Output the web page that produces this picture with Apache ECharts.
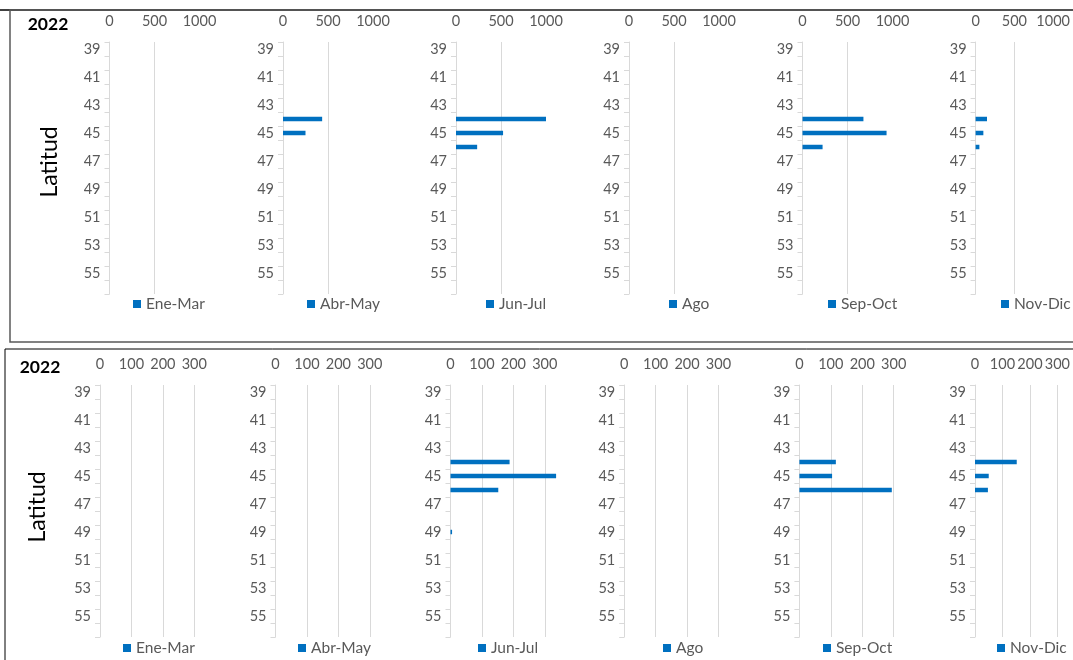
<!DOCTYPE html>
<html>
<head>
<meta charset="utf-8">
<style>
  html, body { margin: 0; padding: 0; background: #ffffff; }
  #chart { width: 1073px; height: 660px; }
</style>
<script src="https://cdn.jsdelivr.net/npm/echarts@6/dist/echarts.min.js"></script>
</head>
<body>
<div id="chart"></div>
<script>
// ---- data ----
const latitudes = ['39','40','41','42','43','44','45','46','47','48','49','50','51','52','53','54','55','56'];
const seasons = ['Ene-Mar', 'Abr-May', 'Jun-Jul', 'Ago', 'Sep-Oct', 'Nov-Dic'];
const yearLabel = '2022';
const axisTitle = 'Latitud';

// top panel (scale 0-1000)
const topEneMar = [0,0,0,0,0,0,0,0,0,0,0,0,0,0,0,0,0,0];
const topAbrMay = [0,0,0,0,0,435,250,0,0,0,0,0,0,0,0,0,0,0];
const topJunJul = [0,0,0,0,0,1000,523,235,0,0,0,0,0,0,0,0,0,0];
const topAgo    = [0,0,0,0,0,0,0,0,0,0,0,0,0,0,0,0,0,0];
const topSepOct = [0,0,0,0,0,677,934,223,0,0,0,0,0,0,0,0,0,0];
const topNovDic = [0,0,0,0,0,147,100,49,0,0,0,0,0,0,0,0,0,0];

// bottom panel (scale 0-300)
const botEneMar = [0,0,0,0,0,0,0,0,0,0,0,0,0,0,0,0,0,0];
const botAbrMay = [0,0,0,0,0,0,0,0,0,0,0,0,0,0,0,0,0,0];
const botJunJul = [0,0,0,0,0,188,336,152,0,0,5,0,0,0,0,0,0,0];
const botAgo    = [0,0,0,0,0,0,0,0,0,0,0,0,0,0,0,0,0,0];
const botSepOct = [0,0,0,0,0,116,104,294,0,0,0,0,0,0,0,0,0,0];
const botNovDic = [0,0,0,0,0,152,50,47,0,0,0,0,0,0,0,0,0,0];

const topTicks = { max: 1000, interval: 500 };
const botTicks = { max: 350, interval: 100 };

// ---- layout ----
const FONT = 'Lato';
const LABEL = '#595959';
const GRIDC = '#d9d9d9';
const BLUE = '#0070C0';

const topSeries = [topEneMar, topAbrMay, topJunJul, topAgo, topSepOct, topNovDic];
const botSeries = [botEneMar, botAbrMay, botJunJul, botAgo, botSepOct, botNovDic];

const topLefts = [109.5, 283, 456, 629, 802.5, 975.6];
const botLefts = [100, 275.5, 450.5, 624.2, 799.4, 975];
const topLegendX = [128, 302, 481, 664, 823, 996];
const botLegendX = [118, 293, 473, 658, 818, 992];

const grid = [], xAxis = [], yAxis = [], series = [], legend = [];

function addPanel(lefts, top, width, ticks, data, legendX, legendTop) {
  for (let i = 0; i < 6; i++) {
    const idx = grid.length;
    grid.push({ left: lefts[i], top: top, width: width, height: 252 });
    xAxis.push({
      type: 'value', gridIndex: idx, position: 'top',
      min: 0, max: ticks.max, interval: ticks.interval,
      axisLine: { show: false }, axisTick: { show: false },
      splitLine: { show: true, showMaxLine: false, lineStyle: { color: GRIDC, width: 1 } },
      axisLabel: {
        color: LABEL, fontSize: 14.5, fontFamily: FONT, margin: 13,
        showMaxLabel: ticks.max % ticks.interval === 0,
        formatter: function (v) { return String(v); }
      }
    });
    yAxis.push({
      type: 'category', gridIndex: idx, data: latitudes, inverse: true,
      axisLine: { show: true, lineStyle: { color: GRIDC, width: 1 } },
      axisTick: { show: true, interval: 0, length: 5, lineStyle: { color: GRIDC } },
      axisLabel: { interval: 1, color: LABEL, fontSize: 14.5, fontFamily: FONT, margin: 9 },
      splitLine: { show: false }
    });
    series.push({
      type: 'bar', name: seasons[i], xAxisIndex: idx, yAxisIndex: idx,
      data: data[i], barWidth: 4.5, itemStyle: { color: BLUE }, silent: true
    });
    legend.push({
      data: [seasons[i]], left: legendX[i], top: legendTop, orient: 'horizontal',
      icon: 'rect', itemWidth: 8, itemHeight: 8, itemGap: 6,
      textStyle: { color: LABEL, fontSize: 15.5, fontFamily: FONT }, selectedMode: false
    });
  }
}

addPanel(topLefts, 42, 90, topTicks, topSeries, topLegendX, 291);
addPanel(botLefts, 385, 110, botTicks, botSeries, botLegendX, 635);

const chart = echarts.init(document.getElementById('chart'));
chart.setOption({
  animation: false,
  backgroundColor: '#ffffff',
  grid, xAxis, yAxis, series, legend,
  graphic: [
    { type: 'line', shape: { x1: 0, y1: 10, x2: 1073, y2: 10 }, style: { stroke: '#000', lineWidth: 1.5 } },
    { type: 'rect', shape: { x: 10, y: 10, width: 1100, height: 332 }, style: { fill: 'none', stroke: '#595959', lineWidth: 1.5 } },
    { type: 'rect', shape: { x: 5, y: 349, width: 1100, height: 330 }, style: { fill: 'none', stroke: '#000', lineWidth: 1 } },
    { type: 'text', x: 48, y: 24, style: { text: yearLabel, font: 'bold 17.5px ' + FONT, fill: '#000', align: 'center', verticalAlign: 'middle' } },
    { type: 'text', x: 40, y: 367, style: { text: yearLabel, font: 'bold 17.5px ' + FONT, fill: '#000', align: 'center', verticalAlign: 'middle' } },
    { type: 'text', x: 50, y: 162, rotation: Math.PI / 2, style: { text: axisTitle, font: '23px ' + FONT, fill: '#000', align: 'center', verticalAlign: 'middle' } },
    { type: 'text', x: 38, y: 507, rotation: Math.PI / 2, style: { text: axisTitle, font: '23px ' + FONT, fill: '#000', align: 'center', verticalAlign: 'middle' } }
  ]
});
</script>
</body>
</html>
